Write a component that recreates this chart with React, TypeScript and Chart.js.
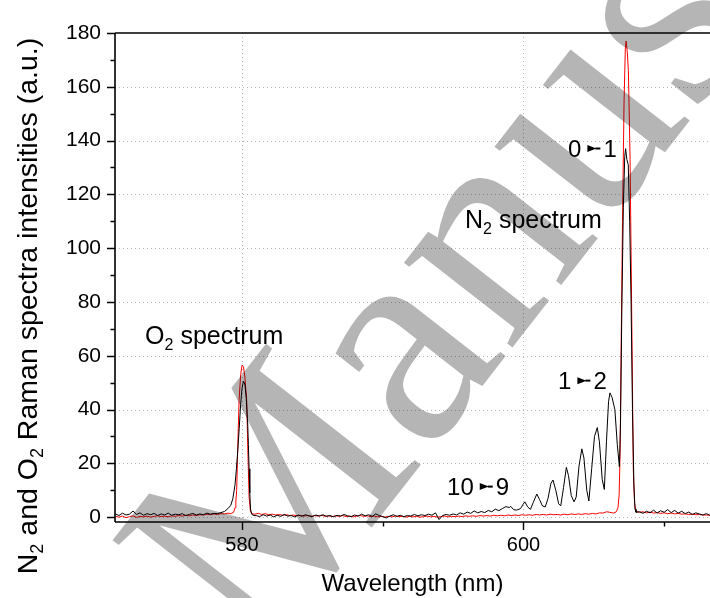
import { useEffect, useRef } from 'react';
import { Chart, registerables } from 'chart.js';

Chart.register(...registerables);

// ---- data (wavelength nm, intensity a.u.) ----
const n2Spectrum: [number, number][] = [
  [571.00,1.2],[571.25,0.6],[571.50,1.5],[571.75,0.8],[572.00,1.1],[572.25,2.3],[572.50,1.0],[572.75,1.6],[573.00,0.7],[573.25,1.3],[573.50,0.9],[573.75,1.4],[574.00,0.6],[574.25,1.2],[574.50,0.8],[574.75,1.5],[575.00,0.7],[575.25,1.1],[575.50,0.9],[575.75,1.3],[576.00,0.6],[576.25,1.0],[576.50,1.4],[576.75,0.8],[577.00,1.2],[577.25,0.9],[577.50,1.5],[577.75,1.1],[578.00,1.4],[578.25,1.3],[578.50,1.7],[578.75,2.1],[579.00,3.2],[579.20,4.4],[579.35,7.0],[579.50,12.0],[579.60,18.0],[579.70,25.0],[579.80,33.0],[579.90,42.0],[580.00,48.0],[580.10,50.5],[580.20,49.5],[580.30,44.0],[580.40,35.0],[580.45,27.0],[580.50,18.0],[580.55,9.0],[580.60,3.0],[580.70,1.0],[580.85,0.6],
  [581.00,0.6],[581.25,0.2],[581.50,0.9],[581.75,0.4],[582.00,0.8],[582.25,0.1],[582.50,0.7],[582.75,0.3],[583.00,1.0],[583.25,0.4],[583.50,0.6],[583.75,0.1],[584.00,0.8],[584.25,0.3],[584.50,0.9],[584.75,0.5],[585.00,0.2],[585.25,0.8],[585.50,0.4],[585.75,0.9],[586.00,0.3],[586.25,0.6],[586.50,0.1],[586.75,0.7],[587.00,0.4],[587.25,1.0],[587.50,0.5],[587.75,0.2],[588.00,0.8],[588.25,0.4],[588.50,1.1],[588.75,0.5],[589.00,0.9],[589.25,0.3],[589.50,1.2],[589.75,0.6],[590.00,0.2],[590.25,-0.3],[590.50,0.4],[590.75,0.9],[591.00,0.3],[591.25,0.7],[591.50,0.2],[591.75,0.6],[592.00,0.4],[592.25,1.0],[592.50,0.5],[592.75,0.9],[593.00,0.6],[593.25,1.1],[593.50,0.7],[593.75,1.6],[594.00,-0.9],[594.25,0.6],[594.50,1.0],[594.75,0.7],[595.00,1.2],[595.25,0.8],[595.50,1.6],[595.75,1.1],[596.00,1.9],[596.25,1.4],[596.50,2.3],[596.75,1.6],[597.00,2.1],[597.25,1.7],[597.50,2.5],[597.75,2.0],[598.00,3.0],[598.25,2.4],[598.50,3.2],[598.75,3.9],[599.00,3.6],[599.10,4.0],[599.30,2.8],[599.50,2.6],[599.80,3.2],[599.95,4.6],[600.10,5.7],[600.30,3.8],[600.50,2.9],[600.70,5.5],[600.95,8.6],[601.15,6.5],[601.35,4.2],[601.55,3.8],[601.75,7.0],[601.95,12.5],[602.10,13.8],[602.30,10.0],[602.50,5.0],[602.65,4.2],[602.85,11.0],[603.05,18.5],[603.20,15.5],[603.40,8.0],[603.60,5.7],[603.75,7.5],[603.95,19.0],[604.15,25.4],[604.30,22.0],[604.50,10.0],[604.65,6.0],[604.85,18.0],[605.05,30.0],[605.25,33.3],[605.40,28.0],[605.60,14.0],[605.75,10.3],[605.90,28.0],[606.05,43.0],[606.15,46.2],[606.30,44.5],[606.50,40.0],[606.67,27.0],[606.82,18.7],[606.90,35.0],[607.00,80.0],[607.10,115.0],[607.20,134.0],[607.26,137.0],[607.35,133.0],[607.45,131.0],[607.55,110.0],[607.65,80.0],[607.75,40.0],[607.85,12.0],[607.93,3.0],[608.00,1.8],[608.25,2.0],[608.50,1.4],[608.75,2.2],[609.00,1.6],[609.25,2.6],[609.50,1.5],[609.75,2.4],[610.00,1.8],[610.25,2.8],[610.50,1.7],[610.75,2.5],[611.00,1.5],[611.25,2.2],[611.50,1.3],[611.75,1.9],[612.00,1.0],[612.25,1.6],[612.50,1.2],[612.75,0.8],[613.00,1.3],[613.25,0.7],[613.50,1.0]
];

const o2Spectrum: [number, number][] = [
  [571.00,0.3],[571.25,0.0],[571.50,0.4],[571.75,-0.2],[572.00,0.2],[572.25,0.5],[572.50,-0.1],[572.75,0.3],[573.00,0.1],[573.25,0.4],[573.50,0.0],[573.75,0.3],[574.00,0.5],[574.25,0.2],[574.50,0.4],[574.75,0.1],[575.00,0.5],[575.25,0.3],[575.50,0.6],[575.75,0.4],[576.00,0.7],[576.25,0.5],[576.50,0.8],[576.75,0.6],[577.00,0.9],[577.25,0.8],[577.50,1.1],[577.75,0.9],[578.00,1.2],[578.25,1.0],[578.50,1.3],[578.75,1.2],[579.00,1.5],[579.20,1.3],[579.40,1.8],[579.50,3.5],[579.56,6.0],[579.62,10.0],[579.69,25.0],[579.79,43.5],[579.90,53.0],[580.00,56.5],[580.10,56.0],[580.20,52.0],[580.33,43.5],[580.41,25.0],[580.50,7.5],[580.60,2.0],[580.70,1.3],[580.90,1.1],
  [581.15,1.4],[581.40,1.0],[581.65,1.3],[581.90,0.9],[582.15,1.1],[582.40,0.8],[582.65,1.0],[582.90,0.7],[583.15,0.9],[583.40,0.6],[583.65,0.8],[583.90,0.5],[584.15,0.7],[584.40,0.4],[584.65,0.6],[584.90,0.3],[585.15,0.6],[585.40,0.4],[585.65,0.7],[585.90,0.3],[586.15,0.5],[586.40,0.2],[586.65,0.5],[586.90,0.3],[587.15,0.6],[587.40,0.2],[587.65,0.4],[587.90,0.1],[588.15,0.4],[588.40,0.6],[588.65,0.3],[588.90,0.5],[589.15,0.2],[589.40,0.4],[589.65,0.1],[589.90,0.3],[590.15,0.0],[590.40,0.3],[590.65,0.1],[590.90,0.4],[591.15,0.2],[591.40,0.3],[591.65,0.0],[591.90,0.3],[592.15,0.1],[592.40,0.3],[592.65,0.0],[592.90,0.2],[593.15,0.4],[593.40,0.1],[593.65,0.3],[593.90,0.0],[594.15,0.2],[594.40,0.4],[594.65,0.1],[594.90,0.3],[595.15,0.2],[595.40,0.4],[595.65,0.2],[595.90,0.5],[596.15,0.3],[596.40,0.5],[596.65,0.3],[596.90,0.6],[597.15,0.4],[597.40,0.6],[597.65,0.4],[597.90,0.7],[598.15,0.5],[598.40,0.7],[598.65,0.5],[598.90,0.8],[599.15,0.6],[599.40,0.8],[599.65,0.6],[599.90,0.9],[600.15,0.7],[600.40,0.9],[600.65,0.7],[600.90,1.0],[601.15,0.8],[601.40,1.0],[601.65,0.8],[601.90,1.1],[602.15,0.9],[602.40,1.0],[602.65,0.8],[602.90,1.1],[603.15,0.9],[603.40,1.2],[603.65,1.0],[603.90,1.2],[604.15,1.0],[604.40,1.3],[604.65,1.1],[604.90,1.4],[605.15,1.2],[605.40,1.6],[605.65,1.5],[605.90,2.0],[606.15,1.8],[606.40,1.5],[606.60,2.0],[606.72,3.5],[606.80,8.0],[606.87,24.0],[606.94,61.0],[607.04,110.0],[607.15,154.0],[607.24,174.0],[607.30,177.0],[607.38,173.0],[607.46,166.0],[607.58,133.0],[607.70,73.0],[607.81,17.5],[607.90,5.0],[608.00,2.2],
  [608.25,1.8],[608.50,2.0],[608.75,1.6],[609.00,1.9],[609.25,1.5],[609.50,1.7],[609.75,1.4],[610.00,1.6],[610.25,1.3],[610.50,1.5],[610.75,1.2],[611.00,1.4],[611.25,1.1],[611.50,1.2],[611.75,1.0],[612.00,1.1],[612.25,0.9],[612.50,1.0],[612.75,0.8],[613.00,0.8],[613.25,0.7],[613.50,0.7]
];

const xMajorTicks = [580, 600];
const xMinorTicks = [590, 610];
const yMajorTicks = [0, 20, 40, 60, 80, 100, 120, 140, 160, 180];
const yMinorTicks = [10, 30, 50, 70, 90, 110, 130, 150, 170];

const X_MIN = 570.97;
const X_MAX = 613.26;
const Y_MIN = -1.8;
const Y_MAX = 180;

type Part = { t: string; sub?: boolean };
const yTitle: Part[] = [
  { t: 'N' }, { t: '2', sub: true }, { t: ' and O' }, { t: '2', sub: true }, { t: ' Raman spectra intensities (a.u.)' },
];
const xTitle: Part[] = [{ t: 'Wavelength (nm)' }];

// text annotations anchored in data coordinates (left, baseline)
const labels: { parts: Part[]; x: number; y: number }[] = [
  { parts: [{ t: 'O' }, { t: '2', sub: true }, { t: ' spectrum' }], x: 573.11, y: 64.3 },
  { parts: [{ t: 'N' }, { t: '2', sub: true }, { t: ' spectrum' }], x: 595.85, y: 107.5 },
];
const transitions: { from: string; to: string; x: number; y: number }[] = [
  { from: '0', to: '1', x: 603.17, y: 133.9 },
  { from: '1', to: '2', x: 602.46, y: 47.6 },
  { from: '10', to: '9', x: 594.57, y: 8.2 },
];

const FONT = '"Liberation Sans", Arial, sans-serif';

function richWidth(ctx: CanvasRenderingContext2D, parts: Part[], size: number) {
  let w = 0;
  for (const p of parts) {
    ctx.font = `${p.sub ? Math.round(size * 0.62) : size}px ${FONT}`;
    w += ctx.measureText(p.t).width;
  }
  return w;
}
function drawRich(ctx: CanvasRenderingContext2D, parts: Part[], x: number, y: number, size: number) {
  let cx = x;
  ctx.textBaseline = 'alphabetic';
  ctx.textAlign = 'left';
  for (const p of parts) {
    ctx.font = `${p.sub ? Math.round(size * 0.62) : size}px ${FONT}`;
    ctx.fillText(p.t, cx, p.sub ? y + size * 0.22 : y);
    cx += ctx.measureText(p.t).width;
  }
}

const decor = {
  id: 'decor',
  beforeDatasetsDraw(chart: any) {
    const { ctx, chartArea: a, scales } = chart;
    const x = scales.x, y = scales.y;
    ctx.save();
    ctx.strokeStyle = '#b4b4b4';
    ctx.lineWidth = 1;
    ctx.setLineDash([1, 3]);
    for (const v of yMajorTicks) {
      if (v >= Y_MAX) continue;
      const py = Math.round(y.getPixelForValue(v)) + 0.5;
      ctx.beginPath(); ctx.moveTo(a.left, py); ctx.lineTo(a.right, py); ctx.stroke();
    }
    for (const v of xMajorTicks) {
      const px = Math.round(x.getPixelForValue(v)) + 0.5;
      ctx.beginPath(); ctx.moveTo(px, a.top); ctx.lineTo(px, a.bottom); ctx.stroke();
    }
    ctx.restore();
  },
  afterDatasetsDraw(chart: any) {
    const { ctx, chartArea: a, scales } = chart;
    const x = scales.x, y = scales.y;
    ctx.save();
    ctx.strokeStyle = '#000';
    ctx.lineWidth = 1.6;
    ctx.beginPath();
    ctx.moveTo(a.left, a.top); ctx.lineTo(a.right, a.top);
    ctx.moveTo(a.left, a.top); ctx.lineTo(a.left, a.bottom);
    ctx.moveTo(a.left, a.bottom); ctx.lineTo(a.right, a.bottom);
    ctx.stroke();
    ctx.lineWidth = 1.4;
    ctx.beginPath();
    for (const v of yMajorTicks) {
      const py = Math.round(y.getPixelForValue(v)) + 0.5;
      ctx.moveTo(a.left - 8, py); ctx.lineTo(a.left, py);
    }
    for (const v of yMinorTicks) {
      const py = Math.round(y.getPixelForValue(v)) + 0.5;
      ctx.moveTo(a.left - 4.5, py); ctx.lineTo(a.left, py);
    }
    for (const v of xMajorTicks) {
      const px = Math.round(x.getPixelForValue(v)) + 0.5;
      ctx.moveTo(px, a.bottom); ctx.lineTo(px, a.bottom + 8);
    }
    for (const v of xMinorTicks) {
      const px = Math.round(x.getPixelForValue(v)) + 0.5;
      ctx.moveTo(px, a.bottom); ctx.lineTo(px, a.bottom + 4.5);
    }
    ctx.stroke();
    ctx.restore();
  },
  afterDraw(chart: any) {
    const { ctx, chartArea: a, scales } = chart;
    const x = scales.x, y = scales.y;
    ctx.save();
    ctx.fillStyle = '#000';
    // axis titles
    const xw = richWidth(ctx, xTitle, 24);
    drawRich(ctx, xTitle, (a.left + a.right) / 2 - xw / 2, 591, 24);
    ctx.save();
    ctx.translate(37, 306);
    ctx.rotate(-Math.PI / 2);
    const yw = richWidth(ctx, yTitle, 28.5);
    drawRich(ctx, yTitle, -yw / 2, 0, 28.5);
    ctx.restore();
    // annotations
    const asize = 25;
    for (const l of labels) {
      drawRich(ctx, l.parts, x.getPixelForValue(l.x), y.getPixelForValue(l.y), asize);
    }
    for (const t of transitions) {
      const px = x.getPixelForValue(t.x);
      const py = y.getPixelForValue(t.y);
      ctx.font = `24px ${FONT}`;
      ctx.textBaseline = 'alphabetic';
      ctx.fillText(t.from, px, py);
      const w1 = ctx.measureText(t.from).width;
      const ax = px + w1 + 6;
      const ay = py - 8.5;
      ctx.beginPath();
      ctx.moveTo(ax, ay - 3.5); ctx.lineTo(ax + 9, ay); ctx.lineTo(ax, ay + 3.5); ctx.closePath();
      ctx.fill();
      ctx.fillRect(ax + 8, ay - 1, 5, 2);
      ctx.fillText(t.to, ax + 16, py);
    }
    // watermark
    ctx.fillStyle = 'rgba(0,0,0,0.29)';
    ctx.font = '300px "Liberation Serif", serif';
    ctx.translate(262, 668);
    ctx.rotate(-52 * Math.PI / 180);
    ctx.fillText('Manuscript', 0, 0);
    ctx.restore();
  },
};

export default function App() {
  const ref = useRef<HTMLCanvasElement | null>(null);
  useEffect(() => {
    document.body.style.margin = '0';
    const canvas = ref.current!;
    const chart = new Chart(canvas, {
      type: 'line',
      data: {
        datasets: [
          {
            label: 'N2',
            data: n2Spectrum.map(([wl, v]) => ({ x: wl, y: v })),
            borderColor: '#000000',
            borderWidth: 1,
            pointRadius: 0,
            fill: false,
            tension: 0,
          },
          {
            label: 'O2',
            data: o2Spectrum.map(([wl, v]) => ({ x: wl, y: v })),
            borderColor: '#ff0000',
            borderWidth: 1,
            pointRadius: 0,
            fill: false,
            tension: 0,
          },
        ],
      },
      options: {
        animation: false,
        responsive: false,
        devicePixelRatio: 1,
        parsing: false as any,
        layout: { padding: { top: 33, right: 0, left: 0, bottom: 0 } },
        plugins: { legend: { display: false }, tooltip: { enabled: false } },
        scales: {
          x: {
            type: 'linear',
            min: X_MIN,
            max: X_MAX,
            afterBuildTicks: (s: any) => { s.ticks = xMajorTicks.map((v) => ({ value: v })); },
            afterFit: (s: any) => { s.height = 76; },
            grid: { display: false, drawTicks: false },
            border: { display: false },
            ticks: { color: '#000', font: { size: 20, family: FONT }, padding: 11, maxRotation: 0, autoSkip: false, callback: (v: any) => String(v) },
          },
          y: {
            type: 'linear',
            min: Y_MIN,
            max: Y_MAX,
            afterBuildTicks: (s: any) => { s.ticks = yMajorTicks.map((v) => ({ value: v })); },
            afterFit: (s: any) => { s.width = 115; },
            grid: { display: false, drawTicks: false },
            border: { display: false },
            ticks: { color: '#000', font: { size: 21, family: FONT }, padding: 14, autoSkip: false, callback: (v: any) => String(v) },
          },
        },
      },
      plugins: [decor],
    });
    return () => chart.destroy();
  }, []);
  return <canvas ref={ref} width={710} height={598} style={{ display: 'block' }} />;
}
